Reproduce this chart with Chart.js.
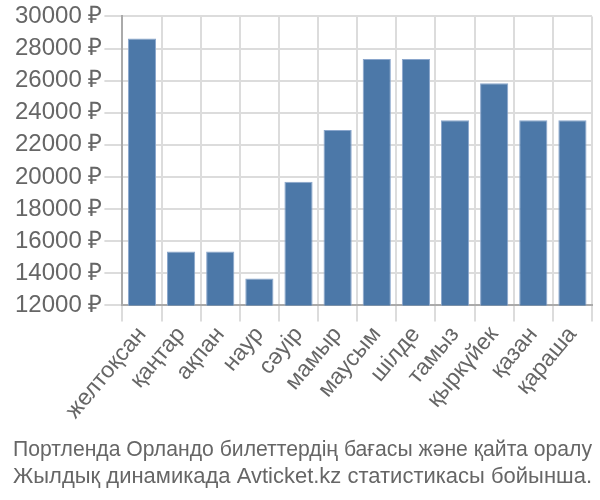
<!DOCTYPE html>
<html>
<head>
<meta charset="utf-8">
<script src="https://cdn.jsdelivr.net/npm/chart.js@4"></script>
<style>
  html, body { margin: 0; padding: 0; background: #fff; }
  #wrap { width: 600px; height: 500px; }
</style>
</head>
<body>
<div id="wrap"><canvas id="myChart" width="600" height="500"></canvas></div>
<script>
// Айлар мен бағалар
const months = ["желтоқсан", "қаңтар", "ақпан", "наур", "сәуір", "мамыр", "маусым", "шілде", "тамыз", "қыркүйек", "қазан", "қараша"];
const prices = [28620, 15360, 15360, 13680, 19700, 22920, 27340, 27340, 23530, 25840, 23530, 23530];
const titleLines = ["Портленда Орландо билеттердің бағасы және қайта оралу", "Жылдық динамикада Avticket.kz статистикасы бойынша."];

const ctx = document.getElementById("myChart").getContext("2d");
new Chart(ctx, {
  type: "bar",
  data: {
    labels: months,
    datasets: [{
      data: prices,
      backgroundColor: "#4c78a8",
      borderColor: "#8aa6cc",
      borderWidth: 1,
    }],
  },
  options: {
    responsive: false,
    animation: false,
    layout: { padding: { left: 13, right: 8, top: 5, bottom: 0 } },
    scales: {
      x: {
        grid: { color: "#dcdcdc", lineWidth: 2, tickLength: 16, offset: true },
        border: { color: "#aaaaaa", width: 2 },
        ticks: {
          color: "#666",
          font: { family: "Liberation Sans", size: 23 },
          minRotation: 50,
          maxRotation: 50,
          autoSkip: false,
          padding: 0,
        },
      },
      y: {
        min: 12000,
        max: 30000,
        grid: { color: "#dcdcdc", lineWidth: 2, tickLength: 18 },
        border: { color: "#aaaaaa", width: 2 },
        ticks: {
          stepSize: 2000,
          color: "#666",
          font: { family: "Liberation Sans", size: 24 },
          padding: 2,
          callback: (v) => v + " ₽",
        },
      },
    },
    plugins: {
      legend: { display: false },
      tooltip: { enabled: false },
      title: {
        display: true,
        position: "bottom",
        text: titleLines,
        color: "#666",
        font: { family: "Liberation Sans", size: 22, weight: "normal" },
        padding: { top: 13, bottom: 10 },
      },
    },
  },
});
</script>
</body>
</html>
